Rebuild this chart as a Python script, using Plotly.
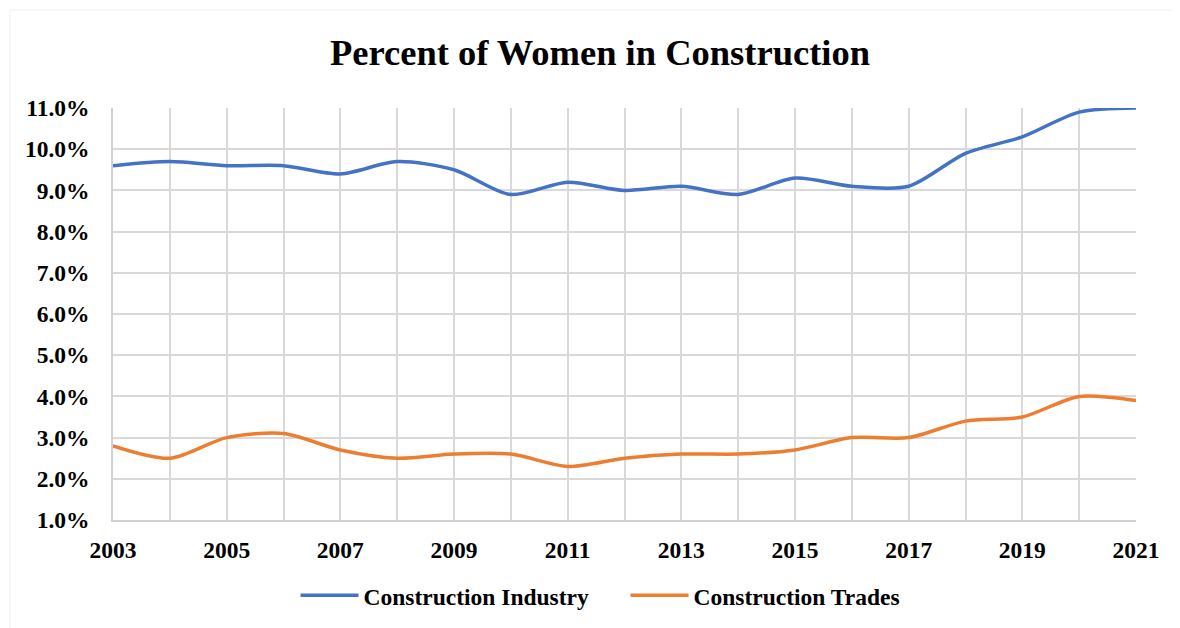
import plotly.graph_objects as go

years = list(range(2003, 2022))
industry = [9.6, 9.7, 9.6, 9.6, 9.4, 9.7, 9.5, 8.9, 9.2, 9.0, 9.1, 8.9, 9.3, 9.1, 9.1, 9.9, 10.3, 10.9, 11.0]
trades = [2.8, 2.5, 3.0, 3.1, 2.7, 2.5, 2.6, 2.6, 2.3, 2.5, 2.6, 2.6, 2.7, 3.0, 3.0, 3.4, 3.5, 4.0, 3.9]
series_names = ["Construction Industry", "Construction Trades"]
colors = ["#4472C4", "#ED7D31"]

font_family = "Liberation Serif, Times New Roman, serif"

fig = go.Figure()
for name, vals, col in zip(series_names, [industry, trades], colors):
    fig.add_trace(go.Scatter(
        x=years, y=vals, name="<b>" + name + "</b>", mode="lines",
        line=dict(color=col, width=3.5, shape="spline", smoothing=0.8),
    ))

fig.update_layout(
    width=1180, height=628,
    paper_bgcolor="white", plot_bgcolor="white",
    margin=dict(l=105, r=52, t=100, b=116, autoexpand=False),
    title=dict(text="<b>Percent of Women in Construction</b>", x=0.5017, xanchor="center",
               y=0.93, yanchor="middle",
               font=dict(family=font_family, size=36.5, color="black")),
    font=dict(family=font_family, size=23, color="black"),
    legend=dict(orientation="h", x=0.501, xanchor="center", y=-0.13, yanchor="top",
                font=dict(family=font_family, size=23.5, color="black"),
                traceorder="normal", itemwidth=58,
                entrywidth=257, entrywidthmode="pixels"),
    showlegend=True,
    shapes=[dict(type="rect", xref="paper", yref="paper",
                 x0=-0.1007, x1=2.0, y0=-1.0, y1=1.2379,
                 line=dict(color="#f0f0f0", width=1), layer="below")],
)

fig.update_xaxes(
    range=[2003, 2021], tick0=2003, dtick=2, tickmode="linear",
    showgrid=True, gridcolor="#d9d9d9", gridwidth=1.5,
    minor=dict(dtick=1, tick0=2003, showgrid=True, gridcolor="#d9d9d9", gridwidth=1.5),
    showline=True, linecolor="#d0d0d0", linewidth=1.5,
    ticks="", tickfont=dict(family=font_family, size=23.5, color="black"),
    ticklabelstandoff=8, zeroline=False, automargin=False,
    tickprefix="<b>", ticksuffix="</b>",
)
fig.update_yaxes(
    range=[1, 11], tick0=1, dtick=1, tickmode="linear",
    showgrid=True, gridcolor="#d9d9d9", gridwidth=1.5,
    showline=True, linecolor="#d0d0d0", linewidth=1.5,
    ticks="", tickformat=".1f", tickprefix="<b>", ticksuffix="%</b>",
    tickfont=dict(family=font_family, size=23.5, color="black"),
    ticklabelstandoff=17, zeroline=False, automargin=False,
)

fig.write_html("out.html")
